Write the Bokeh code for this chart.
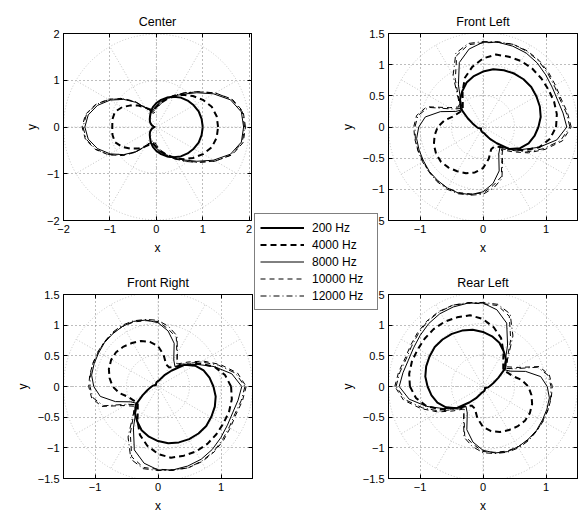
import numpy as np
from bokeh.plotting import figure
from bokeh.models import (Range1d, FixedTicker, LinearAxis, Legend, LegendItem,
                          CustomJSTickFormatter)
from bokeh.layouts import column, row
from bokeh.embed import file_html
from bokeh.resources import INLINE

# ---------------- data (radius, every 10 degrees) ----------------
angles_deg = list(range(0, 360, 10))
freq_labels = ["200 Hz", "4000 Hz", "8000 Hz", "10000 Hz", "12000 Hz"]

# Center loudspeaker
center_200 = [1.00, 0.99, 0.97, 0.93, 0.88, 0.82, 0.75, 0.67, 0.59, 0.51, 0.43, 0.35, 0.27, 0.22, 0.18, 0.14, 0.10, 0.06,
              0.04, 0.06, 0.10, 0.14, 0.18, 0.22, 0.27, 0.35, 0.43, 0.51, 0.59, 0.67, 0.75, 0.82, 0.88, 0.93, 0.97, 0.99]
center_4000 = [1.33, 1.32, 1.27, 1.16, 1.03, 0.90, 0.76, 0.63, 0.52, 0.43, 0.37, 0.40, 0.48, 0.60, 0.72, 0.85, 0.95, 0.96,
               0.95, 0.96, 0.95, 0.85, 0.72, 0.60, 0.48, 0.40, 0.37, 0.43, 0.52, 0.63, 0.76, 0.90, 1.03, 1.16, 1.27, 1.32]
center_8000 = [1.88, 1.86, 1.70, 1.42, 1.14, 0.92, 0.77, 0.65, 0.55, 0.45, 0.37, 0.37, 0.48, 0.69, 0.92, 1.15, 1.35, 1.49,
               1.54, 1.49, 1.35, 1.15, 0.92, 0.69, 0.48, 0.37, 0.37, 0.45, 0.55, 0.65, 0.77, 0.92, 1.14, 1.42, 1.70, 1.86]
center_10000 = [1.92, 1.90, 1.74, 1.46, 1.17, 0.95, 0.79, 0.66, 0.55, 0.44, 0.34, 0.36, 0.49, 0.71, 0.95, 1.19, 1.40, 1.55,
                1.60, 1.55, 1.40, 1.19, 0.95, 0.71, 0.49, 0.36, 0.34, 0.44, 0.55, 0.66, 0.79, 0.95, 1.17, 1.46, 1.74, 1.90]
center_12000 = [1.90, 1.88, 1.73, 1.46, 1.18, 0.96, 0.78, 0.63, 0.50, 0.38, 0.30, 0.33, 0.47, 0.70, 0.94, 1.18, 1.39, 1.53,
                1.58, 1.53, 1.39, 1.18, 0.94, 0.70, 0.47, 0.33, 0.30, 0.38, 0.50, 0.63, 0.78, 0.96, 1.18, 1.46, 1.73, 1.88]

# Front Left loudspeaker (Front Right = mirror about x axis, Rear Left = mirror about y axis)
front_left_200 = [0.88, 0.93, 0.96, 0.98, 1.00, 1.00, 0.99, 0.97, 0.94, 0.89, 0.83, 0.76, 0.66, 0.57, 0.46, 0.28, 0.18, 0.13,
                  0.10, 0.08, 0.06, 0.05, 0.04, 0.05, 0.06, 0.07, 0.08, 0.09, 0.10, 0.14, 0.22, 0.34, 0.55, 0.68, 0.77, 0.83]
front_left_4000 = [1.16, 1.19, 1.20, 1.20, 1.21, 1.22, 1.22, 1.20, 1.18, 1.10, 0.98, 0.84, 0.65, 0.50, 0.42, 0.45, 0.50, 0.62,
                   0.72, 0.78, 0.83, 0.86, 0.87, 0.85, 0.82, 0.79, 0.74, 0.66, 0.52, 0.38, 0.36, 0.42, 0.55, 0.75, 0.95, 1.08]
front_left_8000 = [1.33, 1.29, 1.26, 1.27, 1.30, 1.34, 1.37, 1.38, 1.38, 1.36, 1.27, 1.10, 0.78, 0.55, 0.43, 0.50, 0.72, 0.93,
                   1.02, 1.07, 1.08, 1.09, 1.11, 1.12, 1.13, 1.13, 1.10, 1.04, 0.92, 0.75, 0.50, 0.42, 0.55, 0.72, 0.95, 1.19]
front_left_10000 = [1.40, 1.36, 1.32, 1.33, 1.36, 1.39, 1.41, 1.41, 1.38, 1.35, 1.34, 1.22, 0.88, 0.60, 0.50, 0.62, 0.95, 1.07,
                    1.10, 1.10, 1.10, 1.10, 1.12, 1.13, 1.13, 1.12, 1.09, 1.06, 0.95, 0.85, 0.60, 0.48, 0.62, 0.83, 1.05, 1.28]
front_left_12000 = [1.38, 1.34, 1.30, 1.31, 1.34, 1.38, 1.40, 1.41, 1.39, 1.37, 1.36, 1.26, 0.95, 0.62, 0.46, 0.58, 0.92, 1.05,
                    1.08, 1.09, 1.10, 1.11, 1.12, 1.14, 1.15, 1.14, 1.11, 1.08, 0.99, 0.88, 0.62, 0.46, 0.58, 0.80, 1.02, 1.25]

center_series = [center_200, center_4000, center_8000, center_10000, center_12000]
front_left_series = [front_left_200, front_left_4000, front_left_8000, front_left_10000, front_left_12000]

center_ticks = [-2, -1, 0, 1, 2]
side_x_ticks = [-1, 0, 1]
side_y_ticks = [-1.5, -1, -0.5, 0, 0.5, 1, 1.5]

# ---------------- styles ----------------
FONT = "Liberation Sans"
line_styles = [
    dict(line_width=2.0, line_dash="solid"),
    dict(line_width=2.0, line_dash="6 4"),
    dict(line_width=1.0, line_dash="solid"),
    dict(line_width=1.0, line_dash="5 4"),
    dict(line_width=1.0, line_dash="6 3 1 3"),
]

minus_fmt = "return String(tick).replace('-', '\\u2212');"


def polar_xy(r, sx=1.0, sy=1.0):
    a = np.deg2rad(np.array(angles_deg + [360], dtype=float))
    rr = np.array(list(r) + [r[0]], dtype=float)
    return sx * rr * np.cos(a), sy * rr * np.sin(a)


def make_panel(title, xlim, ylim, xt, yt, w, h, ml, mr, mt, mb, rings, ray_len, series, sx=1.0, sy=1.0):
    p = figure(width=w, height=h, x_range=Range1d(*xlim), y_range=Range1d(*ylim),
               toolbar_location=None, output_backend="svg",
               min_border_left=ml, min_border_right=mr, min_border_top=mt, min_border_bottom=mb)
    p.title.text = title
    p.title.align = "center"
    p.title.text_font = FONT
    p.title.text_font_size = "12.5px"
    p.title.text_font_style = "normal"
    p.title.text_color = "black"
    p.title.standoff = 9
    p.outline_line_color = "black"
    p.outline_line_alpha = 1
    p.background_fill_color = "white"
    p.border_fill_color = "white"

    p.xaxis.ticker = FixedTicker(ticks=xt)
    p.yaxis.ticker = FixedTicker(ticks=yt)
    p.xaxis.axis_label = "x"
    p.yaxis.axis_label = "y"
    for ax in (p.xaxis[0], p.yaxis[0]):
        ax.formatter = CustomJSTickFormatter(code=minus_fmt)
        ax.major_label_text_font = FONT
        ax.major_label_text_font_size = "11px"
        ax.major_label_text_color = "black"
        ax.axis_label_text_font = FONT
        ax.axis_label_text_font_size = "12px"
        ax.axis_label_text_font_style = "normal"
        ax.axis_label_text_color = "black"
        ax.major_tick_in = 4
        ax.major_tick_out = 0
        ax.minor_tick_line_color = None
        ax.axis_line_color = "black"
        ax.major_tick_line_color = "black"
        ax.major_label_standoff = 4
        ax.axis_label_standoff = 5
    # box ticks on the top and right sides (no labels)
    for loc, ticks in (("right", yt), ("above", xt)):
        ax = LinearAxis(ticker=FixedTicker(ticks=ticks), major_label_text_color=None,
                        major_tick_in=4, major_tick_out=0, minor_tick_line_color=None,
                        axis_line_color="black", major_tick_line_color="black", major_label_standoff=0)
        p.add_layout(ax, loc)

    for g in (p.xgrid[0], p.ygrid[0]):
        g.grid_line_color = "#7a7a7a"
        g.grid_line_dash = "1 3"
        g.grid_line_width = 1
    p.xgrid[0].ticker = FixedTicker(ticks=xt)
    p.ygrid[0].ticker = FixedTicker(ticks=yt)

    # polar grid (faint dotted circles and spokes)
    p.circle(x=[0] * len(rings), y=[0] * len(rings), radius=rings, fill_color=None,
             line_color="#c4c4c4", line_dash="1 2", line_width=1)
    p.ray(x=0, y=0, length=ray_len, angle=list(range(0, 360, 30)), angle_units="deg",
          line_color="#c4c4c4", line_dash="1 2", line_width=1)

    for r, st in zip(series, line_styles):
        xs, ys = polar_xy(r, sx, sy)
        p.line(xs, ys, line_color="black", line_join="round", **st)
    return p


W_L = 289
W_R = 578 - W_L
H_T = 257
H_B = 515 - H_T

p_center = make_panel("Center", (-2, 2.05), (-2, 2), center_ticks, center_ticks, W_L, H_T,
                      63, W_L - 251, 33, H_T - 220, [1, 2], 2, center_series)
p_fl = make_panel("Front Left", (-1.5, 1.5), (-1.5, 1.5), side_x_ticks, side_y_ticks, W_R, H_T,
                  388 - W_L, 1, 32, H_T - 220, [0.5, 1.0, 1.5], 1.5, front_left_series)
p_fr = make_panel("Front Right", (-1.5, 1.5), (-1.5, 1.5), side_x_ticks, side_y_ticks, W_L, H_B,
                  63, W_L - 252, 294 - H_T, 515 - 483, [0.5, 1.0, 1.5], 1.5, front_left_series, 1.0, -1.0)
p_rl = make_panel("Rear Left", (-1.5, 1.5), (-1.5, 1.5), side_x_ticks, side_y_ticks, W_R, H_B,
                  388 - W_L, 1, 294 - H_T, 515 - 483, [0.5, 1.0, 1.5], 1.5, front_left_series, -1.0, 1.0)

# ---------------- legend (overlaid between the panels) ----------------
leg_fig = figure(width=170, height=130, toolbar_location=None, output_backend="svg",
                 x_range=Range1d(0, 1), y_range=Range1d(0, 1), min_border=0,
                 styles={"position": "absolute", "left": "254px", "top": "213px", "z-index": "10"})
leg_fig.axis.visible = False
leg_fig.grid.visible = False
leg_fig.outline_line_color = None
leg_fig.background_fill_alpha = 0
leg_fig.border_fill_alpha = 0
items = []
for lab, st in zip(freq_labels, line_styles):
    # legend-only renderers, kept outside the visible range
    rend = leg_fig.line(x=[5, 6], y=[5, 6], line_color="black", **st)
    items.append(LegendItem(label=lab, renderers=[rend]))
legend = Legend(items=items, location="top_left", margin=0, padding=5, spacing=0,
                glyph_width=44, glyph_height=17, label_height=17, label_width=60, label_standoff=8,
                label_text_font=FONT, label_text_font_size="12px", label_text_color="black",
                border_line_color="black", border_line_width=1,
                background_fill_color="white", background_fill_alpha=1)
leg_fig.add_layout(legend, "center")

layout = column(row(p_center, p_fl), row(p_fr, p_rl), leg_fig)

open("out.html", "w").write(file_html(layout, INLINE))
